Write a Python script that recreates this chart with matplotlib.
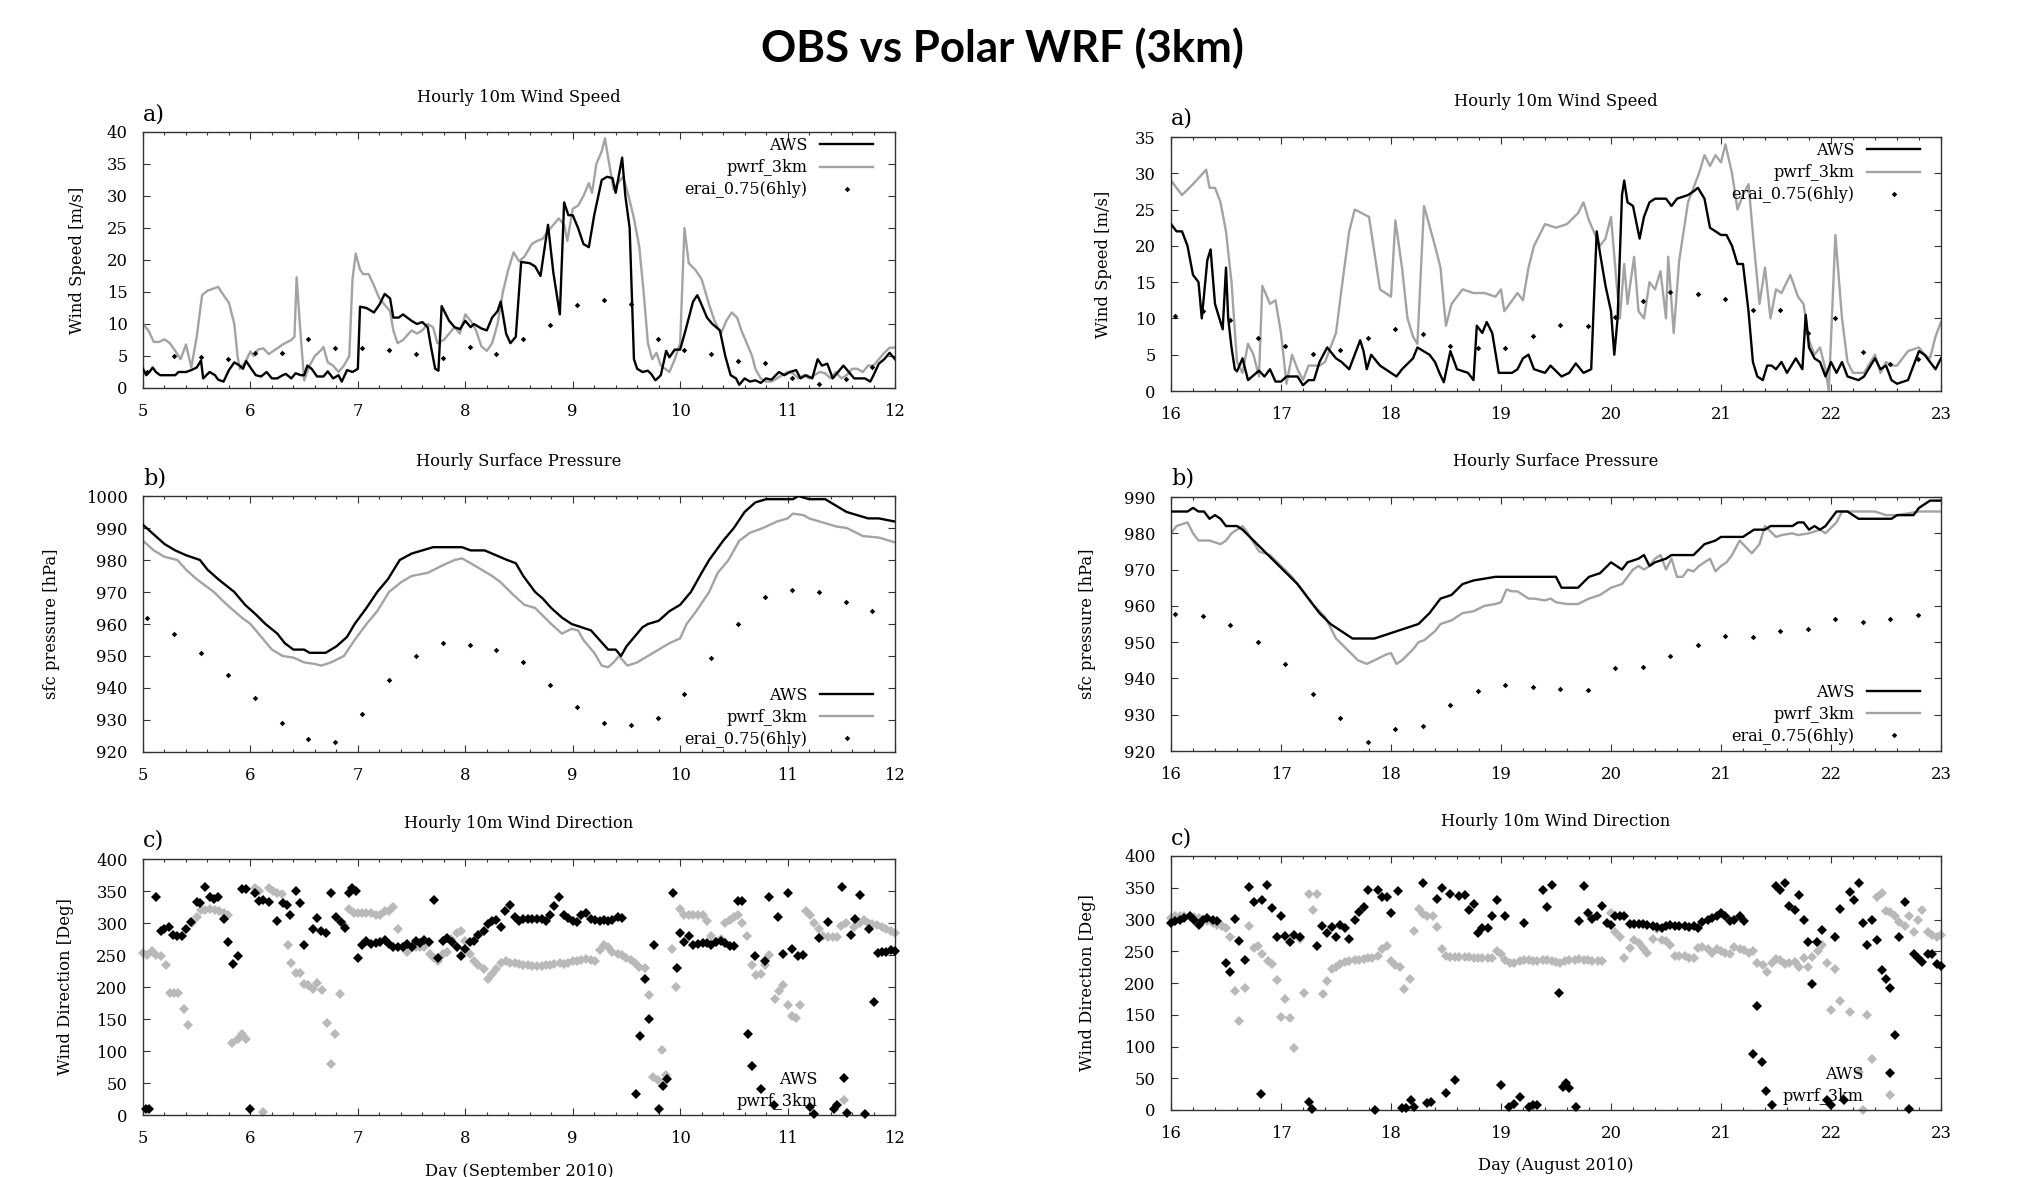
import numpy as np
import matplotlib
matplotlib.use("Agg")
import matplotlib.pyplot as plt
from matplotlib.ticker import MultipleLocator

# ---------------- data ----------------
# September case, panel a) wind speed
sep_ws_aws_t = [5.0, 5.03, 5.06, 5.09, 5.12, 5.16, 5.22, 5.3, 5.33, 5.4, 5.45, 5.5, 5.54, 5.56, 5.62, 5.67,
                5.7, 5.75, 5.8, 5.85, 5.9, 5.93, 5.96, 6.0, 6.05, 6.1, 6.15, 6.2, 6.25, 6.3, 6.33, 6.38,
                6.42, 6.47, 6.5, 6.53, 6.57, 6.62, 6.68, 6.72, 6.77, 6.82, 6.85, 6.9, 6.95, 7.0, 7.02, 7.08,
                7.15, 7.2, 7.25, 7.3, 7.33, 7.38, 7.42, 7.5, 7.55, 7.6, 7.65, 7.68, 7.72, 7.75, 7.78, 7.85,
                7.9, 7.95, 8.0, 8.05, 8.08, 8.15, 8.2, 8.25, 8.3, 8.33, 8.38, 8.42, 8.47, 8.52, 8.6, 8.65,
                8.7, 8.77, 8.82, 8.88, 8.92, 8.96, 9.0, 9.05, 9.1, 9.15, 9.2, 9.27, 9.32, 9.37, 9.4, 9.46,
                9.49, 9.53, 9.57, 9.6, 9.65, 9.7, 9.73, 9.77, 9.82, 9.87, 9.9, 9.95, 10.0, 10.05, 10.12, 10.16,
                10.2, 10.25, 10.3, 10.37, 10.42, 10.47, 10.52, 10.55, 10.6, 10.65, 10.7, 10.75, 10.8, 10.85, 10.92, 10.97,
                11.02, 11.08, 11.12, 11.17, 11.23, 11.28, 11.32, 11.37, 11.42, 11.47, 11.52, 11.57, 11.62, 11.67, 11.72, 11.77,
                11.8, 11.85, 11.9, 11.95, 12.0]
sep_ws_aws_v = [3.0, 2.0, 2.5, 3.2, 2.5, 2.0, 2.0, 2.0, 2.5, 2.5, 2.8, 3.2, 4.3, 1.5, 2.5, 2.0,
                1.3, 1.0, 2.8, 4.0, 3.5, 3.0, 4.2, 3.2, 2.0, 1.8, 2.5, 1.5, 1.5, 2.0, 2.2, 1.5,
                2.3, 2.0, 2.0, 3.5, 3.0, 1.8, 1.8, 2.6, 1.5, 2.0, 1.0, 2.8, 2.5, 3.0, 12.7, 12.5,
                11.8, 13.0, 14.7, 14.0, 11.0, 11.0, 11.5, 10.5, 10.0, 10.3, 9.5, 6.5, 3.0, 2.7, 12.8, 10.5,
                9.5, 9.2, 10.5, 9.5, 10.0, 9.3, 9.0, 11.0, 12.0, 13.5, 8.5, 7.0, 8.0, 19.7, 19.5, 19.0,
                17.5, 25.5, 18.0, 11.5, 29.0, 27.0, 27.0, 25.0, 22.5, 22.0, 27.0, 32.5, 33.0, 32.8, 30.5, 36.0,
                30.0, 25.0, 4.5, 3.0, 2.5, 2.7, 2.2, 1.2, 2.0, 5.8, 4.8, 6.0, 6.0, 9.0, 13.5, 14.5,
                13.0, 11.0, 10.0, 9.0, 5.0, 2.0, 1.5, 0.5, 1.5, 1.0, 1.2, 0.8, 1.5, 1.3, 2.5, 2.0,
                2.5, 2.8, 1.5, 2.0, 1.5, 4.5, 3.5, 3.8, 1.5, 2.5, 3.5, 2.5, 1.5, 1.5, 1.5, 1.0,
                2.0, 3.8, 4.5, 5.5, 4.5]
sep_ws_wrf_t = [5.0, 5.05, 5.1, 5.15, 5.2, 5.25, 5.3, 5.35, 5.4, 5.45, 5.5, 5.55, 5.6, 5.7, 5.75, 5.8,
                5.85, 5.88, 5.9, 5.95, 6.0, 6.03, 6.07, 6.12, 6.17, 6.25, 6.3, 6.38, 6.41, 6.43, 6.46, 6.5,
                6.55, 6.6, 6.65, 6.68, 6.72, 6.77, 6.82, 6.87, 6.92, 6.95, 6.98, 7.02, 7.05, 7.1, 7.15, 7.2,
                7.25, 7.3, 7.33, 7.37, 7.42, 7.5, 7.55, 7.6, 7.65, 7.7, 7.74, 7.8, 7.85, 7.9, 7.95, 8.0,
                8.05, 8.1, 8.15, 8.2, 8.25, 8.3, 8.35, 8.4, 8.45, 8.5, 8.55, 8.62, 8.67, 8.72, 8.77, 8.82,
                8.87, 8.92, 8.95, 9.0, 9.05, 9.1, 9.15, 9.18, 9.22, 9.27, 9.3, 9.34, 9.38, 9.42, 9.47, 9.52,
                9.57, 9.62, 9.66, 9.7, 9.74, 9.78, 9.82, 9.86, 9.9, 9.95, 10.0, 10.04, 10.08, 10.14, 10.2, 10.27,
                10.32, 10.38, 10.43, 10.48, 10.53, 10.57, 10.62, 10.67, 10.7, 10.75, 10.8, 10.85, 10.9, 10.95, 11.0, 11.05,
                11.1, 11.15, 11.2, 11.25, 11.3, 11.35, 11.4, 11.45, 11.5, 11.55, 11.6, 11.65, 11.7, 11.75, 11.8, 11.85,
                11.9, 11.95, 12.0]
sep_ws_wrf_v = [10.0, 9.0, 7.2, 7.2, 7.6, 7.0, 5.8, 4.5, 6.8, 3.2, 8.0, 14.5, 15.2, 15.8, 14.5, 13.3,
                10.0, 5.0, 3.0, 4.0, 5.7, 5.0, 6.0, 6.2, 5.3, 6.2, 6.8, 7.5, 8.0, 17.3, 10.0, 1.2,
                3.5, 5.0, 5.8, 6.4, 4.0, 3.5, 2.5, 3.5, 5.0, 17.0, 21.0, 18.5, 17.8, 17.8, 16.0, 14.0,
                13.0, 12.0, 9.0, 7.0, 7.5, 9.0, 8.5, 9.0, 10.0, 9.5, 7.0, 7.5, 8.5, 9.5, 8.5, 11.5,
                10.5, 9.0, 6.5, 5.8, 7.0, 10.0, 15.0, 18.5, 21.2, 19.8, 20.5, 22.5, 23.0, 23.3, 24.5, 25.5,
                26.5, 25.5, 23.0, 28.0, 28.5, 30.0, 32.0, 30.5, 35.0, 37.0, 39.0, 35.0, 31.0, 32.0, 33.0, 30.0,
                26.5, 22.0, 15.0, 7.0, 4.5, 5.5, 3.5, 3.0, 2.5, 4.5, 7.0, 25.0, 19.5, 18.5, 17.0, 13.0,
                10.5, 8.5, 10.5, 11.8, 11.0, 9.0, 7.0, 5.0, 3.0, 1.5, 1.0, 1.0, 1.5, 2.0, 2.5, 2.3,
                1.5, 2.0, 1.5, 2.0, 2.5, 2.3, 1.5, 2.5, 1.5, 2.0, 3.0, 3.0, 2.5, 3.5, 3.5, 4.5,
                5.5, 6.3, 6.3]
sep_erai_t = [5.04 + 0.25 * k for k in range(28)]
sep_ws_erai = [2.5, 5.0, 4.8, 4.6, 5.4, 5.5, 7.7, 6.2, 6.2, 6.0, 5.3, 4.7, 6.4, 5.3,
               7.6, 9.9, 13.0, 13.7, 13.2, 7.7, 6.0, 5.3, 4.2, 3.9, 1.6, 0.7, 1.4, 3.3]

# September case, panel b) surface pressure
sep_ps_aws_t = [5.0, 5.1, 5.2, 5.3, 5.4, 5.53, 5.6, 5.7, 5.85, 5.95, 6.05, 6.14, 6.25, 6.32, 6.4, 6.5,
                6.55, 6.7, 6.8, 6.9, 6.97, 7.08, 7.18, 7.28, 7.39, 7.5, 7.6, 7.7, 7.97, 8.05, 8.18, 8.25,
                8.32, 8.39, 8.47, 8.54, 8.65, 8.72, 8.8, 8.9, 8.99, 9.08, 9.17, 9.25, 9.33, 9.4, 9.45, 9.5,
                9.55, 9.65, 9.7, 9.8, 9.9, 10.0, 10.1, 10.2, 10.27, 10.4, 10.5, 10.6, 10.7, 10.8, 11.05, 11.1,
                11.2, 11.35, 11.45, 11.55, 11.65, 11.75, 11.85, 12.0]
sep_ps_aws_v = [991, 988, 985, 983, 981.5, 980, 977, 974, 970, 966, 963, 960, 957, 954, 952, 952,
                951, 951, 953, 956, 960, 965, 970, 974, 980, 982, 983, 984, 984, 983, 983, 982,
                981, 980, 979, 975, 970, 968, 965, 962, 960, 959, 958, 955, 952, 952, 950, 953,
                955, 959, 960, 961, 964, 966, 970, 976, 980, 986, 990, 995, 998, 999, 999, 1000,
                999, 999, 997, 995, 994, 993, 993, 992]
sep_ps_wrf_t = [5.0, 5.1, 5.2, 5.32, 5.4, 5.5, 5.66, 5.75, 5.85, 5.92, 6.0, 6.1, 6.2, 6.3, 6.4, 6.5,
                6.6, 6.66, 6.75, 6.87, 6.97, 7.08, 7.18, 7.29, 7.4, 7.5, 7.65, 7.8, 7.9, 7.97, 8.05, 8.15,
                8.25, 8.33, 8.45, 8.55, 8.65, 8.8, 8.9, 8.99, 9.05, 9.1, 9.2, 9.27, 9.33, 9.38, 9.43, 9.51,
                9.6, 9.7, 9.8, 9.9, 10.0, 10.06, 10.15, 10.27, 10.35, 10.45, 10.55, 10.65, 10.77, 10.9, 11.0, 11.05,
                11.15, 11.2, 11.3, 11.45, 11.55, 11.7, 11.85, 12.0]
sep_ps_wrf_v = [986, 983, 981, 980, 977, 974, 970, 967, 964, 962, 960, 956, 952, 950, 949.5, 948,
                947.5, 947, 948, 950, 955, 960, 964, 970, 973, 975, 976, 978.5, 980, 980.5, 979, 977,
                975, 973, 969, 966, 965, 960, 957, 958.5, 958, 955, 951, 947, 946.5, 948, 950, 947,
                948, 950, 952, 954, 955.5, 960, 964, 970, 976, 980, 986, 988.5, 990, 992, 993, 994.5,
                994, 993, 992, 990.5, 990, 987.5, 987, 985.5]
sep_ps_erai = [962, 957, 951, 944, 937, 929, 924, 923, 932, 942.5, 950, 954, 953.5, 952,
               948, 941, 934, 929, 928.5, 930.5, 938, 949.5, 960, 968.5, 970.5, 970, 967, 964]

# September case, panel c) wind direction
sep_wd_aws_t = [5.03, 5.06, 5.12, 5.17, 5.2, 5.24, 5.28, 5.32, 5.36, 5.4, 5.45, 5.5, 5.53, 5.58, 5.62, 5.66,
                5.7, 5.75, 5.79, 5.84, 5.88, 5.92, 5.96, 6.0, 6.04, 6.08, 6.12, 6.17, 6.25, 6.3, 6.34, 6.37,
                6.42, 6.46, 6.5, 6.58, 6.62, 6.66, 6.7, 6.75, 6.8, 6.84, 6.88, 6.92, 6.95, 6.98, 7.0, 7.04,
                7.08, 7.12, 7.17, 7.21, 7.25, 7.29, 7.33, 7.37, 7.42, 7.46, 7.5, 7.54, 7.58, 7.62, 7.66, 7.71,
                7.75, 7.79, 7.83, 7.88, 7.92, 7.96, 8.0, 8.04, 8.08, 8.12, 8.17, 8.21, 8.25, 8.29, 8.33, 8.37,
                8.42, 8.46, 8.5, 8.54, 8.58, 8.62, 8.67, 8.71, 8.75, 8.79, 8.83, 8.87, 8.92, 8.96, 9.0, 9.04,
                9.08, 9.12, 9.17, 9.21, 9.25, 9.29, 9.33, 9.37, 9.42, 9.46, 9.59, 9.63, 9.67, 9.71, 9.76, 9.8,
                9.84, 9.88, 9.93, 9.97, 10.0, 10.04, 10.08, 10.12, 10.17, 10.21, 10.25, 10.29, 10.33, 10.38, 10.42, 10.46,
                10.5, 10.54, 10.58, 10.63, 10.67, 10.7, 10.75, 10.79, 10.83, 10.87, 10.91, 10.96, 11.0, 11.04, 11.1, 11.14,
                11.21, 11.25, 11.29, 11.38, 11.43, 11.46, 11.51, 11.55, 11.59, 11.63, 11.67, 11.72, 11.76, 11.8, 11.84, 11.88,
                11.92, 11.96, 12.0]
sep_wd_aws_v = [10, 10, 340, 287, 290, 294, 281, 280, 280, 290, 302, 333, 332, 357, 340, 338,
                340, 306, 271, 236, 248, 353, 353, 10, 347, 334, 336, 333, 303, 331, 328, 312,
                350, 331, 266, 291, 308, 288, 285, 347, 310, 302, 292, 347, 355, 350, 245, 265,
                272, 267, 268, 270, 274, 267, 262, 262, 262, 267, 262, 272, 268, 273, 270, 336,
                245, 272, 276, 270, 262, 248, 260, 270, 272, 282, 288, 298, 303, 305, 294, 318,
                328, 310, 303, 306, 306, 307, 307, 306, 303, 313, 327, 340, 312, 308, 303, 302,
                313, 315, 307, 305, 303, 305, 303, 304, 309, 308, 33, 123, 213, 150, 266, 10,
                45, 57, 347, 230, 284, 270, 279, 265, 267, 268, 268, 266, 270, 272, 268, 264,
                264, 335, 335, 127, 76, 249, 41, 240, 340, 15, 309, 252, 347, 260, 248, 250,
                13, 2, 276, 302, 10, 15, 357, 3, 282, 307, 343, 2, 291, 177, 253, 254,
                255, 258, 256]
sep_wd_wrf_t = [5.0, 5.04, 5.08, 5.12, 5.17, 5.21, 5.25, 5.29, 5.33, 5.38, 5.42, 5.46, 5.5, 5.54, 5.58, 5.62,
                5.67, 5.71, 5.75, 5.79, 5.83, 5.88, 5.92, 5.96, 6.04, 6.08, 6.12, 6.17, 6.21, 6.25, 6.29, 6.35,
                6.38, 6.42, 6.46, 6.5, 6.54, 6.58, 6.62, 6.67, 6.71, 6.75, 6.79, 6.83, 6.87, 6.92, 6.96, 7.0,
                7.04, 7.08, 7.12, 7.17, 7.21, 7.25, 7.29, 7.33, 7.37, 7.42, 7.46, 7.5, 7.54, 7.58, 7.62, 7.67,
                7.71, 7.75, 7.79, 7.83, 7.87, 7.92, 7.96, 8.0, 8.04, 8.08, 8.12, 8.17, 8.21, 8.25, 8.29, 8.33,
                8.38, 8.42, 8.46, 8.5, 8.54, 8.58, 8.62, 8.67, 8.71, 8.75, 8.79, 8.83, 8.88, 8.92, 8.96, 9.0,
                9.04, 9.08, 9.12, 9.17, 9.21, 9.25, 9.29, 9.33, 9.37, 9.42, 9.46, 9.5, 9.54, 9.58, 9.62, 9.67,
                9.71, 9.75, 9.79, 9.83, 9.87, 9.92, 9.96, 10.0, 10.04, 10.08, 10.12, 10.17, 10.21, 10.25, 10.29, 10.33,
                10.38, 10.42, 10.46, 10.5, 10.54, 10.58, 10.62, 10.67, 10.71, 10.75, 10.79, 10.83, 10.88, 10.92, 10.96, 11.0,
                11.04, 11.08, 11.12, 11.17, 11.21, 11.25, 11.29, 11.33, 11.38, 11.42, 11.46, 11.5, 11.54, 11.62, 11.67, 11.71,
                11.75, 11.79, 11.83, 11.88, 11.92, 11.96, 12.0]
sep_wd_wrf_v = [253, 250, 256, 250, 249, 234, 191, 191, 191, 166, 141, 300, 310, 320, 320, 322,
                320, 318, 315, 313, 113, 118, 127, 118, 355, 350, 5, 355, 350, 347, 345, 266,
                237, 222, 222, 205, 203, 197, 207, 196, 143, 80, 127, 189, 297, 322, 316, 315,
                316, 316, 315, 313, 312, 318, 318, 325, 290, 262, 255, 263, 262, 262, 263, 252,
                245, 240, 252, 255, 275, 285, 287, 272, 252, 240, 235, 228, 212, 220, 228, 238,
                240, 238, 237, 236, 235, 234, 233, 233, 233, 234, 235, 236, 237, 236, 238, 240,
                240, 242, 243, 242, 241, 258, 265, 262, 255, 252, 250, 245, 242, 237, 232, 230,
                187, 60, 55, 102, 63, 260, 200, 322, 312, 313, 312, 312, 312, 303, 280, 270,
                275, 300, 305, 310, 312, 300, 280, 235, 218, 220, 235, 250, 182, 193, 203, 172,
                155, 152, 172, 318, 312, 300, 290, 280, 278, 278, 278, 295, 300, 293, 300, 305,
                300, 298, 297, 293, 290, 287, 285]

# August case, panel a) wind speed
aug_ws_aws_t = [16.0, 16.05, 16.1, 16.15, 16.2, 16.25, 16.28, 16.33, 16.36, 16.4, 16.45, 16.47, 16.5, 16.52, 16.55, 16.58,
                16.6, 16.65, 16.7, 16.8, 16.85, 16.9, 16.95, 17.0, 17.05, 17.15, 17.2, 17.25, 17.3, 17.35, 17.42, 17.5,
                17.55, 17.62, 17.72, 17.75, 17.78, 17.82, 17.9, 18.0, 18.05, 18.1, 18.2, 18.24, 18.35, 18.4, 18.44, 18.48,
                18.54, 18.6, 18.7, 18.75, 18.78, 18.83, 18.87, 18.92, 18.98, 19.1, 19.15, 19.2, 19.25, 19.3, 19.4, 19.45,
                19.55, 19.62, 19.68, 19.75, 19.82, 19.87, 19.9, 19.95, 20.0, 20.03, 20.06, 20.1, 20.12, 20.15, 20.2, 20.26,
                20.3, 20.35, 20.4, 20.45, 20.5, 20.55, 20.6, 20.7, 20.75, 20.79, 20.85, 20.9, 20.95, 21.0, 21.05, 21.1,
                21.15, 21.2, 21.25, 21.29, 21.33, 21.38, 21.42, 21.46, 21.5, 21.55, 21.6, 21.68, 21.74, 21.77, 21.8, 21.85,
                21.9, 21.95, 22.0, 22.05, 22.1, 22.15, 22.25, 22.3, 22.4, 22.45, 22.5, 22.55, 22.6, 22.7, 22.8, 22.85,
                22.9, 22.95, 23.0]
aug_ws_aws_v = [23.0, 22.0, 22.0, 20.0, 16.0, 15.0, 10.0, 18.0, 19.5, 12.0, 9.5, 8.5, 17.0, 10.0, 6.0, 3.0,
                2.7, 4.5, 1.5, 2.8, 2.0, 3.0, 1.3, 1.3, 2.0, 2.0, 0.8, 1.5, 1.5, 4.0, 6.0, 4.5,
                4.0, 3.0, 7.0, 5.5, 3.0, 5.0, 3.5, 2.5, 2.0, 3.0, 4.5, 6.0, 5.0, 4.0, 2.5, 1.2,
                5.5, 3.0, 2.5, 1.5, 9.0, 8.0, 9.5, 8.0, 2.5, 2.5, 3.0, 4.5, 5.0, 3.0, 2.5, 3.5,
                2.0, 2.5, 3.8, 2.5, 3.0, 22.0, 19.0, 14.5, 11.0, 5.0, 10.0, 27.0, 29.0, 26.0, 25.5, 21.0,
                24.0, 26.0, 26.5, 26.5, 26.5, 25.5, 26.5, 27.0, 27.5, 28.0, 26.5, 22.5, 22.0, 21.5, 21.5, 20.0,
                17.5, 17.5, 11.0, 4.0, 2.0, 1.5, 3.5, 3.5, 3.0, 4.0, 2.5, 4.5, 3.0, 10.5, 6.0, 4.5,
                4.0, 2.0, 4.0, 2.5, 4.0, 2.0, 1.5, 2.0, 4.5, 3.0, 3.5, 1.5, 1.0, 1.5, 5.5, 5.0,
                4.0, 3.0, 4.5]
aug_ws_wrf_t = [16.0, 16.1, 16.2, 16.32, 16.35, 16.4, 16.45, 16.5, 16.55, 16.6, 16.65, 16.7, 16.75, 16.8, 16.83, 16.9,
                16.95, 17.0, 17.05, 17.1, 17.15, 17.2, 17.25, 17.35, 17.4, 17.5, 17.55, 17.62, 17.67, 17.8, 17.85, 17.9,
                17.95, 18.0, 18.04, 18.1, 18.15, 18.2, 18.24, 18.3, 18.4, 18.45, 18.48, 18.5, 18.55, 18.65, 18.75, 18.85,
                18.95, 19.0, 19.03, 19.15, 19.2, 19.25, 19.3, 19.4, 19.5, 19.6, 19.7, 19.75, 19.8, 19.9, 19.95, 20.0,
                20.05, 20.08, 20.12, 20.15, 20.21, 20.25, 20.3, 20.35, 20.4, 20.45, 20.5, 20.52, 20.57, 20.62, 20.7, 20.8,
                20.85, 20.9, 20.95, 21.0, 21.04, 21.1, 21.15, 21.2, 21.25, 21.3, 21.35, 21.4, 21.45, 21.5, 21.55, 21.63,
                21.7, 21.75, 21.8, 21.85, 21.9, 21.95, 21.98, 22.04, 22.1, 22.15, 22.2, 22.3, 22.4, 22.45, 22.5, 22.55,
                22.6, 22.7, 22.8, 22.85, 22.9, 22.95, 23.0]
aug_ws_wrf_v = [29.0, 27.0, 28.5, 30.5, 28.0, 28.0, 26.0, 22.0, 15.0, 4.0, 2.5, 6.5, 5.0, 2.0, 14.5, 12.0,
                12.5, 8.0, 1.0, 5.0, 3.0, 1.5, 3.5, 3.5, 4.0, 8.0, 14.0, 22.0, 25.0, 24.0, 19.0, 14.0,
                13.5, 13.0, 23.5, 17.0, 10.0, 7.5, 6.5, 25.5, 20.0, 17.0, 12.0, 9.0, 12.0, 14.0, 13.5, 13.5,
                13.0, 14.0, 11.0, 13.5, 12.5, 17.0, 20.0, 23.0, 22.5, 23.0, 24.5, 26.0, 23.5, 20.0, 21.0, 24.0,
                15.0, 10.0, 17.5, 12.0, 18.5, 11.0, 10.0, 15.0, 14.0, 16.5, 10.0, 18.5, 8.0, 18.0, 26.0, 30.0,
                32.5, 31.0, 32.5, 31.5, 34.0, 30.0, 25.0, 27.0, 28.5, 20.0, 12.0, 17.0, 10.0, 14.0, 13.5, 16.0,
                13.0, 12.0, 7.0, 5.0, 6.0, 3.0, 0.0, 21.5, 10.0, 4.0, 2.5, 2.5, 5.0, 2.5, 4.0, 3.5,
                3.5, 5.5, 6.0, 5.0, 4.5, 7.5, 9.5]
aug_erai_t = [16.04 + 0.25 * k for k in range(28)]
aug_ws_erai = [10.3, 11.0, 9.8, 7.3, 6.2, 5.1, 5.7, 7.3, 8.5, 7.9, 6.2, 5.9, 5.9, 7.6,
               9.1, 9.0, 10.2, 12.4, 13.6, 13.3, 12.7, 11.2, 11.1, 8.0, 10.1, 5.4, 3.7, 4.4]

# August case, panel b) surface pressure
aug_ps_aws_t = [16.0, 16.15, 16.2, 16.25, 16.3, 16.35, 16.4, 16.45, 16.5, 16.6, 16.65, 16.75, 16.85, 16.95, 17.05, 17.15,
                17.25, 17.35, 17.45, 17.55, 17.65, 17.85, 17.95, 18.05, 18.15, 18.25, 18.35, 18.45, 18.55, 18.65, 18.75, 18.85,
                18.95, 19.05, 19.5, 19.55, 19.7, 19.8, 19.9, 20.0, 20.05, 20.1, 20.15, 20.25, 20.3, 20.35, 20.4, 20.5,
                20.55, 20.65, 20.75, 20.85, 20.95, 21.0, 21.2, 21.3, 21.4, 21.45, 21.65, 21.7, 21.75, 21.8, 21.85, 21.9,
                21.95, 22.0, 22.05, 22.15, 22.2, 22.25, 22.55, 22.6, 22.75, 22.8, 22.9, 23.0]
aug_ps_aws_v = [986, 986, 987, 986, 986, 984, 985, 984, 982, 982, 981, 978, 975, 972, 969, 966,
                962, 958, 955, 953, 951, 951, 952, 953, 954, 955, 958, 962, 963, 966, 967, 967.5,
                968, 968, 968, 965, 965, 968, 969, 972, 971, 970, 972, 973, 974, 971, 972, 973,
                974, 974, 974, 977, 978, 979, 979, 981, 981, 982, 982, 983, 983, 981, 982, 981,
                982, 984, 986, 986, 985, 984, 984, 985, 985, 987, 989, 989]
aug_ps_wrf_t = [16.0, 16.05, 16.1, 16.15, 16.2, 16.25, 16.35, 16.45, 16.5, 16.55, 16.65, 16.7, 16.8, 16.9, 17.0, 17.1,
                17.2, 17.3, 17.4, 17.5, 17.6, 17.7, 17.78, 17.85, 17.95, 18.0, 18.05, 18.1, 18.2, 18.25, 18.3, 18.4,
                18.45, 18.55, 18.65, 18.75, 18.85, 18.95, 19.0, 19.05, 19.1, 19.15, 19.25, 19.3, 19.4, 19.45, 19.5, 19.6,
                19.7, 19.8, 19.9, 20.0, 20.1, 20.2, 20.25, 20.3, 20.35, 20.4, 20.45, 20.5, 20.55, 20.6, 20.65, 20.7,
                20.75, 20.8, 20.9, 20.95, 21.0, 21.05, 21.1, 21.17, 21.2, 21.28, 21.35, 21.4, 21.5, 21.55, 21.65, 21.7,
                21.8, 21.9, 21.95, 22.05, 22.1, 22.2, 22.3, 22.4, 22.5, 22.6, 22.7, 22.8, 22.9, 23.0]
aug_ps_wrf_v = [980, 982, 982.5, 983, 980, 978, 978, 977, 978, 980, 982, 980, 975, 974, 971, 968,
                964, 960, 957, 951, 948, 945, 944, 945, 946.5, 947, 944, 945, 948, 950, 950.5, 953,
                955, 956, 958, 958.5, 960, 960.5, 961, 964.5, 964, 964, 962, 962, 961.5, 962, 961, 960.5,
                960.5, 962, 963, 965, 966, 970, 971, 970, 971, 973, 974, 970, 973, 968, 968, 970,
                969.5, 971, 973, 969.5, 971, 972, 974, 978, 977, 974.5, 977, 982, 979, 979.5, 980, 979.5,
                980, 981, 980, 983, 986, 986, 986, 986, 985, 985, 985.5, 986, 986, 986]
aug_ps_erai = [957.8, 957.1, 954.6, 950, 943.9, 935.8, 929.1, 922.5, 926, 926.9, 932.8, 936.5, 938.3, 937.6,
               937.2, 936.8, 943, 943.2, 946.1, 949.2, 951.6, 951.3, 953.1, 953.7, 956.3, 955.6, 956.5, 957.5]

# August case, panel c) wind direction
aug_wd_aws_t = [16.0, 16.04, 16.08, 16.12, 16.17, 16.21, 16.25, 16.29, 16.33, 16.38, 16.42, 16.5, 16.54, 16.58, 16.62, 16.67,
                16.71, 16.75, 16.82, 16.83, 16.87, 16.92, 16.96, 17.0, 17.04, 17.08, 17.12, 17.17, 17.25, 17.28, 17.33, 17.37,
                17.42, 17.46, 17.5, 17.54, 17.58, 17.62, 17.67, 17.71, 17.75, 17.79, 17.85, 17.88, 17.92, 17.96, 18.0, 18.06,
                18.1, 18.14, 18.18, 18.21, 18.29, 18.33, 18.36, 18.42, 18.46, 18.5, 18.54, 18.58, 18.62, 18.67, 18.71, 18.75,
                18.79, 18.83, 18.88, 18.92, 18.96, 19.0, 19.04, 19.07, 19.12, 19.17, 19.21, 19.25, 19.29, 19.33, 19.38, 19.42,
                19.46, 19.53, 19.56, 19.59, 19.62, 19.68, 19.71, 19.75, 19.79, 19.83, 19.87, 19.92, 19.96, 20.0, 20.04, 20.08,
                20.12, 20.17, 20.21, 20.25, 20.29, 20.33, 20.38, 20.42, 20.46, 20.5, 20.54, 20.58, 20.62, 20.67, 20.71, 20.75,
                20.79, 20.83, 20.88, 20.92, 20.96, 21.0, 21.04, 21.08, 21.12, 21.17, 21.21, 21.29, 21.33, 21.37, 21.41, 21.46,
                21.5, 21.54, 21.58, 21.62, 21.67, 21.71, 21.75, 21.79, 21.83, 21.87, 21.92, 21.96, 22.0, 22.04, 22.08, 22.12,
                22.17, 22.21, 22.25, 22.29, 22.33, 22.37, 22.42, 22.46, 22.5, 22.54, 22.58, 22.62, 22.67, 22.71, 22.75, 22.79,
                22.83, 22.88, 22.92, 22.96, 23.0]
aug_wd_aws_v = [295, 298, 300, 302, 306, 300, 292, 300, 303, 300, 298, 231, 218, 301, 266, 237,
                351, 328, 25, 330, 355, 318, 272, 305, 274, 264, 276, 272, 13, 2, 258, 290,
                278, 288, 272, 292, 287, 270, 300, 312, 320, 347, 0, 347, 336, 336, 310, 345,
                3, 3, 15, 4, 357, 11, 12, 332, 350, 27, 340, 48, 337, 338, 315, 325,
                278, 287, 287, 306, 331, 40, 305, 4, 10, 20, 294, 5, 8, 8, 347, 320,
                355, 185, 37, 42, 34, 4, 297, 353, 310, 301, 306, 322, 295, 292, 305, 305,
                305, 293, 293, 293, 293, 292, 290, 288, 287, 290, 292, 290, 290, 290, 288, 290,
                286, 296, 300, 303, 306, 310, 305, 298, 300, 305, 298, 88, 164, 75, 30, 8,
                353, 347, 358, 322, 315, 338, 300, 265, 198, 265, 283, 15, 8, 272, 317, 15,
                343, 330, 358, 295, 260, 300, 268, 220, 207, 192, 118, 273, 328, 2, 246, 240,
                233, 246, 246, 230, 227]
aug_wd_wrf_t = [16.0, 16.04, 16.08, 16.12, 16.17, 16.21, 16.25, 16.29, 16.33, 16.38, 16.42, 16.46, 16.5, 16.54, 16.58, 16.62,
                16.67, 16.71, 16.75, 16.79, 16.83, 16.88, 16.92, 16.96, 17.0, 17.04, 17.08, 17.12, 17.17, 17.21, 17.25, 17.29,
                17.33, 17.38, 17.42, 17.46, 17.5, 17.54, 17.58, 17.62, 17.67, 17.71, 17.75, 17.79, 17.83, 17.88, 17.92, 17.96,
                18.0, 18.04, 18.08, 18.12, 18.17, 18.21, 18.25, 18.29, 18.33, 18.38, 18.42, 18.46, 18.5, 18.54, 18.58, 18.62,
                18.67, 18.71, 18.75, 18.79, 18.83, 18.88, 18.92, 18.96, 19.0, 19.04, 19.08, 19.12, 19.17, 19.21, 19.25, 19.29,
                19.33, 19.38, 19.42, 19.46, 19.5, 19.54, 19.58, 19.62, 19.67, 19.71, 19.75, 19.79, 19.83, 19.88, 19.92, 20.0,
                20.04, 20.08, 20.12, 20.17, 20.21, 20.25, 20.29, 20.33, 20.38, 20.42, 20.46, 20.5, 20.54, 20.58, 20.62, 20.67,
                20.71, 20.75, 20.79, 20.83, 20.88, 20.92, 20.96, 21.0, 21.04, 21.08, 21.12, 21.17, 21.21, 21.25, 21.29, 21.33,
                21.38, 21.42, 21.46, 21.5, 21.54, 21.58, 21.62, 21.67, 21.71, 21.75, 21.79, 21.83, 21.88, 21.92, 21.96, 22.0,
                22.04, 22.08, 22.17, 22.25, 22.29, 22.33, 22.37, 22.42, 22.46, 22.5, 22.54, 22.58, 22.62, 22.67, 22.71, 22.75,
                22.79, 22.83, 22.88, 22.92, 22.96, 23.0]
aug_wd_wrf_v = [303, 305, 305, 306, 305, 304, 302, 300, 298, 295, 292, 290, 287, 272, 188, 140,
                192, 290, 255, 258, 246, 235, 230, 205, 147, 175, 145, 98, 270, 184, 340, 315,
                340, 182, 203, 222, 225, 230, 233, 235, 236, 237, 238, 240, 240, 243, 253, 258,
                235, 228, 225, 190, 207, 282, 317, 308, 305, 305, 288, 253, 243, 241, 241, 241,
                241, 241, 240, 240, 240, 240, 240, 250, 245, 236, 232, 232, 234, 236, 236, 235,
                234, 236, 236, 234, 233, 232, 234, 236, 236, 238, 237, 236, 234, 234, 235, 310,
                280, 273, 240, 255, 268, 263, 255, 248, 270, 285, 268, 266, 260, 243, 242, 243,
                240, 240, 255, 256, 253, 248, 253, 250, 248, 245, 256, 254, 252, 247, 250, 232,
                228, 218, 232, 238, 236, 230, 232, 233, 225, 240, 225, 241, 250, 260, 232, 157,
                222, 172, 155, 60, 0, 150, 80, 336, 342, 313, 312, 305, 296, 290, 305, 280,
                300, 315, 280, 275, 272, 275]

# ---------------- styling ----------------
BLACK = "#000000"
GREY = "#a3a3a3"
LGREY = "#b9b9b9"
SERIF = "DejaVu Serif"
FS = 11.8     # ticks, titles, axis labels
LFS = 11.5    # legend text

W, H = 2022, 1177
fig = plt.figure(figsize=(W / 100, H / 100), dpi=100)

# axes boxes in pixels: (left, top, right, bottom)
boxes = {
    "sep_a": (143, 132, 895, 388), "sep_b": (143, 496, 895, 752), "sep_c": (143, 859, 895, 1115),
    "aug_a": (1171, 137, 1941, 391), "aug_b": (1171, 497, 1941, 751), "aug_c": (1171, 856, 1941, 1110),
}


def make_axes(key):
    l, t, r, b = boxes[key]
    return fig.add_axes([l / W, 1 - b / H, (r - l) / W, (b - t) / H])


def style(ax, xlim, ylim, ystep, title, letter, ylabel, ylab_dx):
    ax.set_xlim(*xlim)
    ax.set_ylim(*ylim)
    ax.xaxis.set_major_locator(MultipleLocator(1))
    ax.xaxis.set_minor_locator(MultipleLocator(0.2))
    ax.yaxis.set_major_locator(MultipleLocator(ystep))
    ax.tick_params(which="both", direction="in", top=True, right=True, width=0.8, color="#333333")
    ax.tick_params(which="major", length=5, labelsize=FS)
    ax.tick_params(axis="y", which="major", pad=11)
    ax.tick_params(axis="x", which="major", pad=11)
    ax.tick_params(which="minor", length=2.5)
    for lab in ax.get_xticklabels() + ax.get_yticklabels():
        lab.set_family(SERIF)
    for s in ax.spines.values():
        s.set_linewidth(1.0)
        s.set_color("#333333")
    hpx = ax.get_position().height * H
    wpx = ax.get_position().width * W
    ax.text(0.5, 1 + 35 / hpx, title, transform=ax.transAxes, ha="center", va="center",
            fontsize=FS, family=SERIF)
    ax.text(0.0, 1 + 18 / hpx, letter, transform=ax.transAxes, ha="left", va="center",
            fontsize=16, family=SERIF)
    ax.text(-ylab_dx / wpx, 0.5, ylabel, transform=ax.transAxes, rotation=90,
            ha="center", va="center", fontsize=FS, family=SERIF)


def line_panel(key, aws_t, aws_v, wrf_t, wrf_v, erai_t, erai_v, xlim, ylim, ystep,
               title, letter, ylabel, ylab_dx, loc, anchor):
    ax = make_axes(key)
    ax.plot(aws_t, aws_v, color=BLACK, lw=1.7, label="AWS", zorder=3)
    ax.plot(wrf_t, wrf_v, color=GREY, lw=1.7, label="pwrf_3km", zorder=2)
    ax.plot(erai_t, erai_v, ls="none", marker="D", ms=2.8, color=BLACK, mew=0,
            label="erai_0.75(6hly)", zorder=4)
    style(ax, xlim, ylim, ystep, title, letter, ylabel, ylab_dx)
    ax.legend(loc=loc, bbox_to_anchor=anchor, frameon=False, markerfirst=False,
              handlelength=3.3, handletextpad=0.8, labelspacing=0.32,
              borderpad=0, borderaxespad=0, prop={"family": SERIF, "size": LFS})
    return ax


def dir_panel(key, aws_t, aws_v, wrf_t, wrf_v, xlim, xlabel, xlab_dy, ylab_dx):
    ax = make_axes(key)
    ax.plot(wrf_t, wrf_v, ls="none", marker="D", ms=4.6, color=LGREY, mew=0, label="pwrf_3km",
            zorder=2, clip_on=False)
    ax.plot(aws_t, aws_v, ls="none", marker="D", ms=4.6, color=BLACK, mew=0, label="AWS",
            zorder=3, clip_on=False)
    style(ax, xlim, (0, 400), 50, "Hourly 10m Wind Direction", "c)", "Wind Direction [Deg]", ylab_dx)
    hpx = ax.get_position().height * H
    wpx = ax.get_position().width * W
    handles, labels = ax.get_legend_handles_labels()
    ax.legend(handles[::-1], labels[::-1], loc="lower right",
              bbox_to_anchor=(1 - 33 / wpx, 5 / hpx), frameon=False, markerfirst=False,
              handlelength=2.2, handletextpad=0.6, labelspacing=0.32, borderpad=0,
              borderaxespad=0, prop={"family": SERIF, "size": LFS})
    ax.text(0.5, -xlab_dy / hpx, xlabel, transform=ax.transAxes, ha="center", va="center",
            fontsize=FS, family=SERIF)
    return ax


line_panel("sep_a", sep_ws_aws_t, sep_ws_aws_v, sep_ws_wrf_t, sep_ws_wrf_v, sep_erai_t, sep_ws_erai,
           (5, 12), (0, 40), 5, "Hourly 10m Wind Speed", "a)", "Wind Speed [m/s]", 66,
           "upper right", (1 - 22 / 752, 1 - 5 / 256))
line_panel("sep_b", sep_ps_aws_t, sep_ps_aws_v, sep_ps_wrf_t, sep_ps_wrf_v, sep_erai_t, sep_ps_erai,
           (5, 12), (920, 1000), 10, "Hourly Surface Pressure", "b)", "sfc pressure [hPa]", 91,
           "lower right", (1 - 22 / 752, 4 / 256))
dir_panel("sep_c", sep_wd_aws_t, sep_wd_aws_v, sep_wd_wrf_t, sep_wd_wrf_v, (5, 12),
          "Day (September 2010)", 57, 77)

line_panel("aug_a", aug_ws_aws_t, aug_ws_aws_v, aug_ws_wrf_t, aug_ws_wrf_v, aug_erai_t, aug_ws_erai,
           (16, 23), (0, 35), 5, "Hourly 10m Wind Speed", "a)", "Wind Speed [m/s]", 68,
           "upper right", (1 - 21 / 770, 1 - 5 / 254))
line_panel("aug_b", aug_ps_aws_t, aug_ps_aws_v, aug_ps_wrf_t, aug_ps_wrf_v, aug_erai_t, aug_ps_erai,
           (16, 23), (920, 990), 10, "Hourly Surface Pressure", "b)", "sfc pressure [hPa]", 84,
           "lower right", (1 - 21 / 770, 6 / 254))
dir_panel("aug_c", aug_wd_aws_t, aug_wd_aws_v, aug_wd_wrf_t, aug_wd_wrf_v, (16, 23),
          "Day (August 2010)", 55, 84)

fig.text(1002 / W, 1 - 48 / H, "OBS vs Polar WRF (3km)", ha="center", va="center",
         fontsize=31.5, fontweight="bold", family=["Lato", "DejaVu Sans"])

fig.savefig("out.png", dpi=100)
